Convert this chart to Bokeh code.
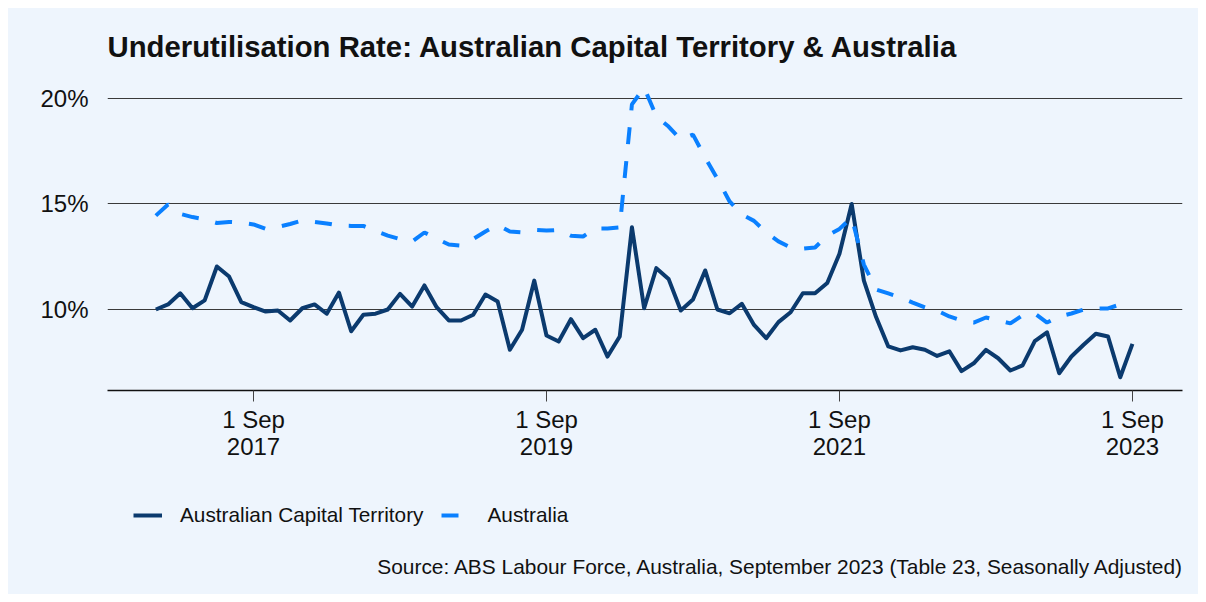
import pandas as pd
from bokeh.plotting import figure
from bokeh.layouts import column
from bokeh.models import FixedTicker, Legend, LegendItem, Label
from bokeh.embed import file_html
from bokeh.resources import INLINE

# ---------------- data ----------------
months = [d.strftime("%Y-%m") for d in pd.date_range("2017-01-01", "2023-09-01", freq="MS")]

act = [
    10.00, 10.24, 10.77, 10.06, 10.43, 12.04, 11.56, 10.35, 10.11, 9.90, 9.95, 9.48,   # 2017
    10.06, 10.24, 9.80, 10.80, 8.97, 9.75, 9.80, 10.00, 10.74, 10.14, 11.14, 10.11,    # 2018
    9.48, 9.48, 9.75, 10.71, 10.38, 8.09, 9.04, 11.37, 8.77, 8.48, 9.54, 8.64,         # 2019
    9.04, 7.77, 8.72, 13.90, 10.06, 11.96, 11.45, 9.95, 10.47, 11.85, 10.00, 9.82,     # 2020
    10.27, 9.27, 8.64, 9.40, 9.87, 10.77, 10.77, 11.26, 12.64, 15.00, 11.37, 9.64,     # 2021
    8.25, 8.06, 8.21, 8.09, 7.80, 8.02, 7.08, 7.45, 8.09, 7.69, 7.11, 7.35,            # 2022
    8.50, 8.92, 6.98, 7.77, 8.33, 8.85, 8.72, 6.79, 8.37,                              # 2023
]

aus = [
    14.45, 14.98, 14.53, 14.38, 14.27, 14.10, 14.15, 14.12, 14.03, 13.82, 13.91, 14.05,  # 2017
    14.22, 14.15, 14.08, 13.98, 13.96, 13.96, 13.72, 13.50, 13.34, 13.22, 13.65, 13.36,  # 2018
    13.08, 13.03, 13.34, 13.70, 14.00, 13.70, 13.66, 13.77, 13.74, 13.77, 13.50, 13.46,  # 2019
    13.84, 13.84, 13.89, 19.72, 20.52, 19.15, 18.67, 18.06, 18.29, 17.20, 16.20, 15.12,  # 2020
    14.50, 14.20, 13.65, 13.23, 12.94, 12.88, 12.94, 13.50, 13.82, 14.36, 12.13, 10.95,  # 2021
    10.76, 10.57, 10.33, 10.10, 9.95, 9.67, 9.48, 9.38, 9.62, 9.48, 9.34, 9.72,          # 2022
    9.81, 9.38, 9.67, 9.81, 10.00, 10.05, 10.05, 10.24, 10.30,                           # 2023
]

x_tick_months = ["2017-09", "2019-09", "2021-09", "2023-09"]
x_tick_labels = ["1 Sep\n2017", "1 Sep\n2019", "1 Sep\n2021", "1 Sep\n2023"]
y_ticks = [10, 15, 20]
y_tick_labels = ["10%", "15%", "20%"]

title_text = "Underutilisation Rate: Australian Capital Territory & Australia"
source_text = "Source: ABS Labour Force, Australia, September 2023 (Table 23, Seasonally Adjusted)"
series_names = ["Australian Capital Territory", "Australia"]

# ---------------- style ----------------
BG = "#EEF5FD"
ACT_COL = "#0B3A6E"
AUS_COL = "#0A80FF"
DASH = "17 17"
FONT = "Liberation Sans"
W = 1190
H_MAIN = 470
H_FOOT = 116
LEFT = 99
RIGHT = 16
FRAME_W = W - LEFT - RIGHT

x = list(range(len(months)))
tick_idx = [months.index(m) for m in x_tick_months]

p = figure(
    width=W, height=H_MAIN,
    output_backend="svg", toolbar_location=None,
    x_range=(-3.96, 84.1), y_range=(6.161, 20.853),
    min_border_left=LEFT, min_border_right=RIGHT, min_border_top=72, min_border_bottom=H_MAIN - 382,
    background_fill_color=BG, border_fill_color=BG, outline_line_color=None,
)

p.title.text = title_text
p.title.text_font = FONT
p.title.text_font_size = "29.3px"
p.title.text_font_style = "bold"
p.title.text_color = "#111111"
p.title.align = "left"
p.title.standoff = 35

p.line(x, act, line_color=ACT_COL, line_width=4, line_join="round")
p.line(x, aus, line_color=AUS_COL, line_width=4, line_dash=DASH)

# axes
p.xaxis.ticker = FixedTicker(ticks=tick_idx)
p.xaxis.major_label_overrides = {i: lab for i, lab in zip(tick_idx, x_tick_labels)}
p.xaxis.major_label_text_font = FONT
p.xaxis.major_label_text_font_size = "24px"
p.xaxis.major_label_text_color = "#111111"
p.xaxis.major_label_text_line_height = 1.0
p.xaxis.major_tick_out = 11
p.xaxis.major_tick_in = 0
p.xaxis.major_tick_line_color = "#444444"
p.xaxis.minor_tick_line_color = None
p.xaxis.axis_line_color = "#111111"
p.xaxis.axis_line_width = 1.3
p.xaxis.major_label_standoff = 4

p.yaxis.ticker = FixedTicker(ticks=y_ticks)
p.yaxis.major_label_overrides = {t: lab for t, lab in zip(y_ticks, y_tick_labels)}
p.yaxis.major_label_text_font = FONT
p.yaxis.major_label_text_font_size = "24px"
p.yaxis.major_label_text_color = "#111111"
p.yaxis.major_tick_out = 0
p.yaxis.major_tick_in = 0
p.yaxis.minor_tick_line_color = None
p.yaxis.axis_line_color = None
p.yaxis.major_label_standoff = 19

p.xgrid.grid_line_color = None
p.ygrid.ticker = FixedTicker(ticks=y_ticks)
p.ygrid.grid_line_color = "#3a3a3a"
p.ygrid.grid_line_width = 1

# ---------------- footer: legend + source ----------------
f = figure(
    width=W, height=H_FOOT,
    output_backend="svg", toolbar_location=None,
    x_range=(0, FRAME_W), y_range=(0, H_FOOT),
    min_border_left=LEFT, min_border_right=RIGHT, min_border_top=0, min_border_bottom=0,
    background_fill_color=None, border_fill_color=BG, outline_line_color=None,
)
f.axis.visible = False
f.grid.visible = False

# legend proxies (hidden copies of the series, used only for the legend glyphs)
l_act = f.line(x, act, line_color=ACT_COL, line_width=4, visible=False)
l_aus = f.line(x, aus, line_color=AUS_COL, line_width=4, line_dash=DASH, visible=False)

legend = Legend(
    items=[LegendItem(label=series_names[0], renderers=[l_act]),
           LegendItem(label=series_names[1], renderers=[l_aus])],
    orientation="horizontal", location=(26, 67),
    background_fill_alpha=0, border_line_color=None,
    label_text_font=FONT, label_text_font_size="20.8px", label_text_color="#111111",
    glyph_width=29, glyph_height=24, label_height=24, label_standoff=18, spacing=17,
    padding=0, margin=0,
)
f.add_layout(legend, "center")

src = Label(x=FRAME_W + 3, y=28, text=source_text,
            text_align="right", text_baseline="middle", text_font=FONT,
            text_font_size="20.9px", text_color="#111111")
f.add_layout(src)

layout = column(p, f, spacing=0, margin=(8, 8, 8, 8), styles={"background-color": BG})
open("out.html", "w").write(file_html(layout, INLINE))
